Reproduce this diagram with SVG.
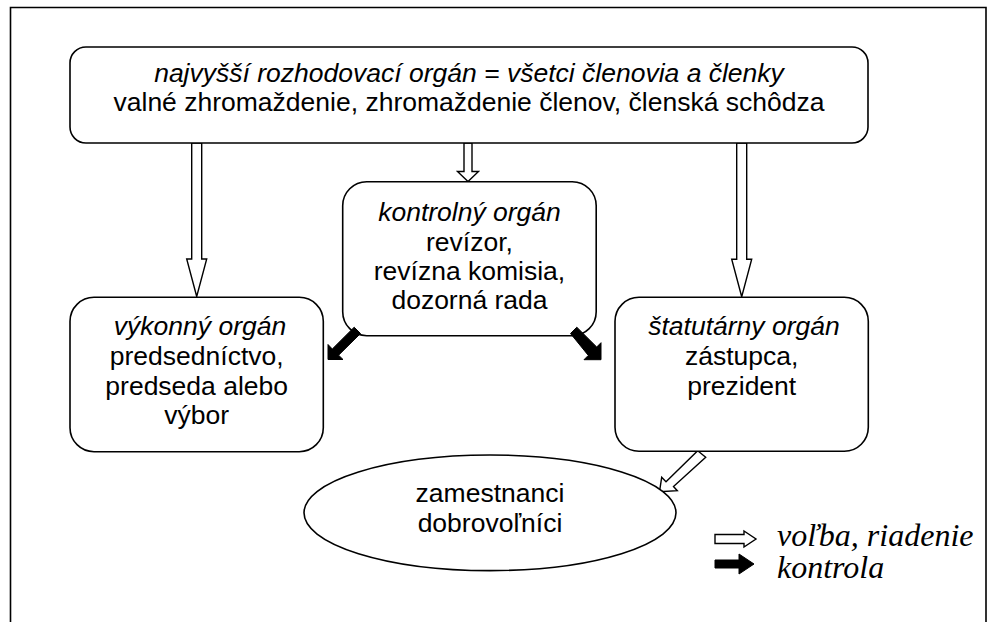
<svg xmlns="http://www.w3.org/2000/svg" width="991" height="622" viewBox="0 0 991 622">
<style>
.box{fill:#fff;stroke:#000;stroke-width:1.6}
.t{font-family:"Liberation Sans",Arial,sans-serif;font-size:26.5px;fill:#000;text-anchor:middle}
.i{font-style:italic}
.warr{fill:#fff;stroke:#000;stroke-width:1.4;stroke-linejoin:miter}
.barr{fill:#000;stroke:#000;stroke-width:1}
.leg{font-family:"Liberation Serif","Times New Roman",serif;font-style:italic;font-size:32px;fill:#000}
</style>
<rect x="0" y="0" width="991" height="622" fill="#fff"/>
<path d="M10.5,640 V7.5 H986 V640" fill="none" stroke="#000" stroke-width="1.6"/>

<g id="connectors">
  <polygon class="warr" points="191.7,143 201.7,143 201.7,259 206.7,259 196.7,296.5 186.7,259 191.7,259"/>
  <polygon class="warr" points="464,143 472,143 472,171.5 478.5,171.5 468,181.5 457.5,171.5 464,171.5"/>
  <polygon class="warr" points="736.7,143 746.7,143 746.7,259.3 751.7,259.3 741.7,296.7 731.7,259.3 736.7,259.3"/>
  <polygon class="warr" points="697.7,450.7 705.7,457.3 673.5,486.5 677.3,490.7 659.5,491.7 661.7,477.3 666,481.7"/>
</g>

<g id="n_top">
  <rect class="box" x="70" y="47" width="798" height="96" rx="16" ry="16"/>
  <text class="t i" x="469" y="82">najvyšší rozhodovací orgán = všetci členovia a členky</text>
  <text class="t" x="469" y="111">valné zhromaždenie, zhromaždenie členov, členská schôdza</text>
</g>

<g id="n_kontrolny">
  <rect class="box" x="342.7" y="181.7" width="253.5" height="154" rx="24" ry="24"/>
  <text class="t i" x="469.5" y="221">kontrolný orgán</text>
  <text class="t" x="469.5" y="250.5">revízor,</text>
  <text class="t" x="469.5" y="280">revízna komisia,</text>
  <text class="t" x="469.5" y="309">dozorná rada</text>
</g>

<g id="n_vykonny">
  <rect class="box" x="70" y="297.3" width="253.3" height="154.4" rx="24" ry="24"/>
  <text class="t i" x="200" y="335">výkonný orgán</text>
  <text class="t" x="196.7" y="365">predsedníctvo,</text>
  <text class="t" x="196.7" y="394.5">predseda alebo</text>
  <text class="t" x="196.7" y="424">výbor</text>
</g>

<g id="n_statutarny">
  <rect class="box" x="615" y="297.3" width="253.3" height="154" rx="24" ry="24"/>
  <text class="t i" x="744" y="335">štatutárny orgán</text>
  <text class="t" x="741.7" y="365">zástupca,</text>
  <text class="t" x="741.7" y="394.5">prezident</text>
</g>

<g id="n_zamestnanci">
  <ellipse class="box" cx="490" cy="512.8" rx="186" ry="57.8"/>
  <text class="t" x="490" y="501.5">zamestnanci</text>
  <text class="t" x="490" y="531.5">dobrovoľníci</text>
</g>

<g id="control_arrows">
  <polygon class="barr" points="360.5,333.5 354.2,327.2 332.3,349 328,344.5 328,359.5 343,359.5 338.6,355.2"/>
  <polygon class="barr" points="570.5,333.5 576.8,327.2 596.7,347 601,342.7 601,359.7 584,359.7 588.3,355.4"/>
</g>

<g id="legend">
  <polygon class="warr" points="715,534.5 744,534.5 744,531 756,539 744,547 744,543.5 715,543.5"/>
  <polygon class="barr" points="715,560 739,560 739,554 754,564 739,574 739,568 715,568"/>
  <text class="leg" x="777" y="545.5">voľba, riadenie</text>
  <text class="leg" x="777" y="577.5">kontrola</text>
</g>
</svg>
